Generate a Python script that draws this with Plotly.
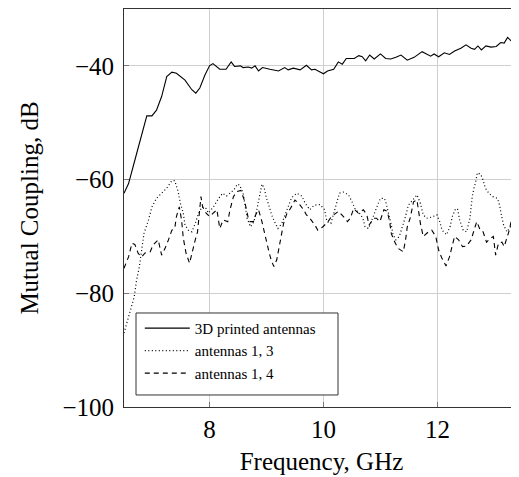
import plotly.graph_objects as go

# ---- data ----
freq_3d = [6.50,6.58,6.69,6.81,6.90,6.99,7.07,7.16,7.25,7.34,7.42,7.57,7.69,7.76,7.83,7.92,8.00,8.06,8.18,8.29,
           8.38,8.44,8.54,8.59,8.68,8.74,8.80,8.86,8.93,9.06,9.21,9.32,9.38,9.47,9.59,9.70,9.79,9.85,9.93,10.00,
           10.07,10.18,10.26,10.33,10.40,10.54,10.62,10.68,10.74,10.81,10.89,11.00,11.09,11.18,11.27,11.36,11.47,
           11.59,11.73,11.88,11.94,12.02,12.12,12.21,12.30,12.41,12.50,12.59,12.65,12.71,12.77,12.85,12.94,13.03,
           13.11,13.17,13.23,13.29,13.35,13.43,13.50]
db_3d = [-62.4,-60.7,-56.6,-51.9,-48.8,-48.8,-47.8,-45.4,-41.9,-41.1,-41.3,-42.5,-44.2,-44.8,-43.9,-41.6,-40.0,-39.6,
         -40.6,-40.6,-39.3,-40.1,-40.0,-40.3,-40.2,-40.4,-40.0,-40.9,-40.3,-40.6,-40.9,-40.3,-40.7,-40.4,-40.7,-39.9,
         -40.7,-40.6,-41.0,-41.4,-40.9,-40.6,-39.3,-39.7,-38.7,-38.7,-38.2,-38.4,-39.1,-38.1,-38.8,-37.9,-38.7,-38.8,
         -38.5,-38.1,-39.0,-38.5,-37.5,-38.3,-37.9,-38.4,-37.7,-38.0,-37.4,-36.9,-36.3,-36.9,-37.1,-36.5,-37.2,-36.5,
         -36.7,-36.6,-35.9,-36.0,-35.0,-35.6,-35.7,-36.5,-36.4]

freq_13 = [6.50,6.58,6.68,6.72,6.77,6.81,6.85,6.93,6.99,7.07,7.16,7.25,7.34,7.39,7.45,7.49,7.54,7.57,7.63,7.69,
           7.75,7.81,7.87,7.94,7.98,8.07,8.16,8.23,8.30,8.36,8.43,8.49,8.53,8.59,8.63,8.66,8.72,8.78,8.83,8.86,
           8.89,8.92,8.96,9.00,9.05,9.09,9.14,9.20,9.27,9.36,9.44,9.53,9.62,9.68,9.76,9.84,9.94,10.02,10.06,10.13,
           10.18,10.22,10.28,10.35,10.44,10.50,10.56,10.63,10.69,10.73,10.79,10.85,10.90,10.96,11.00,11.07,11.10,
           11.15,11.19,11.22,11.27,11.33,11.39,11.43,11.49,11.58,11.64,11.70,11.75,11.81,11.90,11.99,12.04,12.08,
           12.16,12.22,12.26,12.31,12.35,12.39,12.45,12.51,12.57,12.59,12.61,12.64,12.67,12.70,12.76,12.80,12.84,
           12.90,12.97,13.05,13.09,13.12,13.16,13.22,13.28,13.34,13.40,13.50]
db_13 = [-87.0,-84.0,-80.6,-77.7,-75.3,-72.4,-69.5,-67.1,-64.8,-63.3,-62.4,-61.5,-60.2,-60.2,-62.1,-64.2,-65.9,-68.0,
         -68.9,-69.2,-67.7,-65.9,-64.8,-65.1,-65.9,-64.8,-63.3,-62.4,-62.9,-62.4,-61.8,-60.8,-61.0,-62.4,-65.3,-66.8,
         -68.3,-67.4,-65.3,-63.6,-62.1,-60.8,-61.5,-63.3,-64.8,-66.2,-67.4,-68.6,-67.7,-65.3,-63.2,-62.4,-62.9,-64.2,
         -65.3,-64.5,-64.4,-65.3,-67.4,-67.7,-65.9,-64.2,-62.4,-62.2,-62.7,-63.9,-65.3,-65.9,-66.8,-68.3,-68.6,-67.1,
         -65.6,-64.2,-63.3,-63.3,-64.2,-66.2,-68.0,-69.7,-70.6,-70.0,-68.3,-66.8,-64.5,-63.3,-62.7,-64.2,-66.2,-66.8,
         -66.6,-66.2,-67.4,-68.9,-69.7,-68.3,-66.5,-65.3,-65.1,-67.1,-68.9,-69.2,-66.8,-64.8,-63.0,-61.5,-60.4,-58.8,
         -59.1,-60.1,-61.5,-62.4,-63.0,-63.3,-64.5,-66.2,-68.0,-69.2,-68.3,-69.2,-70.0,-69.7]

freq_14 = [6.50,6.58,6.64,6.69,6.75,6.81,6.87,6.96,7.01,7.10,7.16,7.22,7.28,7.34,7.39,7.42,7.47,7.51,7.54,7.59,
           7.65,7.70,7.75,7.79,7.83,7.85,7.88,7.94,8.00,8.07,8.13,8.18,8.24,8.32,8.36,8.42,8.48,8.55,8.61,8.65,
           8.68,8.71,8.77,8.81,8.86,8.92,8.96,9.00,9.05,9.09,9.13,9.18,9.22,9.26,9.30,9.36,9.42,9.50,9.59,9.65,
           9.70,9.76,9.85,9.90,9.99,10.08,10.14,10.26,10.35,10.42,10.47,10.53,10.61,10.70,10.76,10.80,10.88,10.93,
           10.99,11.06,11.12,11.16,11.19,11.25,11.31,11.40,11.44,11.47,11.52,11.58,11.64,11.70,11.75,11.84,11.90,
           11.97,12.02,12.08,12.15,12.21,12.26,12.30,12.37,12.44,12.51,12.59,12.66,12.69,12.75,12.80,12.86,12.92,
           12.98,13.02,13.07,13.13,13.17,13.22,13.26,13.31,13.34,13.40,13.50]
db_14 = [-75.6,-73.6,-71.2,-71.4,-73.0,-73.6,-72.9,-72.7,-71.5,-70.6,-73.3,-72.1,-70.6,-68.9,-68.6,-66.5,-64.8,-67.1,
         -70.3,-73.0,-74.7,-72.4,-70.6,-69.2,-65.3,-63.0,-64.8,-65.9,-66.5,-65.9,-65.3,-68.6,-67.1,-67.4,-65.3,-63.0,
         -62.1,-61.9,-63.6,-65.3,-66.8,-67.4,-67.4,-66.2,-65.3,-67.4,-69.2,-71.2,-73.0,-74.4,-75.3,-74.1,-71.8,-70.1,
         -67.7,-65.9,-65.1,-63.6,-64.5,-65.3,-66.2,-66.8,-68.0,-68.9,-68.3,-67.4,-66.5,-65.6,-66.5,-67.4,-66.8,-65.1,
         -65.9,-65.3,-66.2,-68.0,-66.8,-66.8,-67.4,-65.3,-65.6,-67.4,-69.5,-71.0,-72.1,-72.7,-70.6,-68.3,-66.8,-63.9,
         -63.6,-67.7,-70.0,-69.2,-68.9,-70.0,-72.4,-73.9,-75.2,-73.6,-71.5,-70.0,-70.6,-71.8,-71.7,-70.6,-68.3,-67.4,
         -68.9,-69.2,-71.0,-70.4,-70.0,-73.3,-71.2,-71.0,-71.8,-70.0,-68.9,-66.5,-65.3,-66.0,-64.0]

series_names = ["3D printed antennas", "antennas 1, 3", "antennas 1, 4"]
x_title = "Frequency, GHz"
y_title = "Mutual Coupling, dB"

FONT = "Liberation Serif"

fig = go.Figure()
fig.add_trace(go.Scatter(x=freq_3d, y=db_3d, mode="lines", name=series_names[0],
                         line=dict(color="black", width=1.1)))
fig.add_trace(go.Scatter(x=freq_13, y=db_13, mode="lines", name=series_names[1],
                         line=dict(color="black", width=1.2, dash="1px,2.5px")))
fig.add_trace(go.Scatter(x=freq_14, y=db_14, mode="lines", name=series_names[2],
                         line=dict(color="black", width=1.1, dash="5px,4px")))

# legend frame (white box) drawn as a shape in paper coordinates, legend entries on top of it
fig.add_shape(type="rect", xref="paper", yref="paper",
              x0=0.0304, x1=0.5418, y0=0.0302, y1=0.2362,
              fillcolor="white", line=dict(color="#333", width=1), layer="above")

# the page body has an 8px default margin, so the figure is 8px smaller than the window
fig.update_layout(
    width=511, height=469,
    margin=dict(l=116, r=0, t=1, b=70),
    paper_bgcolor="white", plot_bgcolor="white",
    font=dict(family=FONT, color="black", size=25),
    showlegend=True,
    legend=dict(x=0.04, y=0.043, xanchor="left", yanchor="bottom",
                bgcolor="rgba(0,0,0,0)", borderwidth=0,
                font=dict(family=FONT, size=15, color="black"),
                tracegroupgap=0, itemwidth=45),
)
fig.update_xaxes(
    range=[6.5, 13.43], tick0=0, dtick=2,
    showgrid=True, gridcolor="#cfcfcf", gridwidth=1,
    showline=True, linecolor="#333", linewidth=1, mirror=True,
    ticks="inside", ticklen=5, tickcolor="#777",
    zeroline=False,
    tickfont=dict(family=FONT, size=25),
    title=dict(text=x_title, font=dict(family=FONT, size=25), standoff=10),
)
fig.update_yaxes(
    range=[-100, -30], tick0=0, dtick=20,
    showgrid=True, gridcolor="#cfcfcf", gridwidth=1,
    showline=True, linecolor="#333", linewidth=1, mirror=False,
    ticks="inside", ticklen=5, tickcolor="#777",
    zeroline=False, ticklabelstandoff=4,
    tickfont=dict(family=FONT, size=25),
    title=dict(text=y_title, font=dict(family=FONT, size=25), standoff=16),
)

fig.write_html("out.html")
